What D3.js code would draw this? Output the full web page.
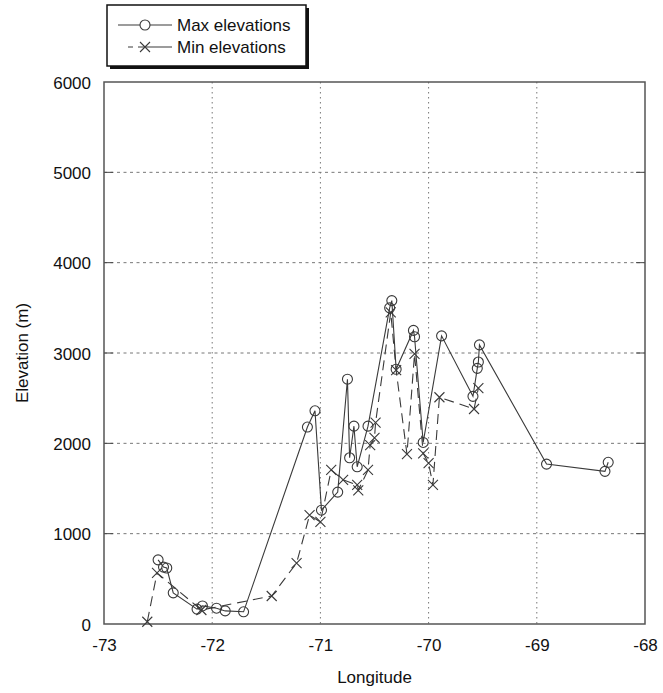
<!DOCTYPE html>
<html>
<head>
<meta charset="utf-8">
<script src="https://cdn.jsdelivr.net/npm/d3@7"></script>
<style>
  body { margin: 0; background: #fff; }
  text { font-family: "Liberation Sans", Arial, sans-serif; fill: #111; }
</style>
</head>
<body>
<svg id="chart" width="663" height="693"></svg>
<script>
// longitude / elevation
const maxLon = [-72.50, -72.45, -72.42, -72.36, -72.14, -72.09, -71.96, -71.88, -71.71,
  -71.12, -71.05, -70.99, -70.84, -70.75, -70.73, -70.69, -70.66, -70.56,
  -70.36, -70.34, -70.30, -70.14, -70.13, -70.05, -69.88, -69.59, -69.55,
  -69.54, -69.53, -68.91, -68.37, -68.34];
const maxElev = [710, 630, 620, 345, 165, 200, 175, 145, 135,
  2180, 2360, 1260, 1460, 2710, 1840, 2190, 1740, 2190,
  3500, 3580, 2820, 3250, 3180, 2010, 3190, 2520, 2830,
  2900, 3090, 1770, 1690, 1790];

const minLon = [-72.60, -72.51, -72.10, -71.45, -71.22, -71.10, -71.00, -70.90, -70.79,
  -70.66, -70.65, -70.56, -70.54, -70.50, -70.49, -70.35, -70.30, -70.20,
  -70.13, -70.05, -70.00, -69.96, -69.90, -69.58, -69.54];
const minElev = [25, 565, 155, 310, 675, 1205, 1130, 1705, 1595,
  1540, 1480, 1705, 1980, 2060, 2230, 3450, 2810, 1880,
  2990, 1890, 1780, 1540, 2510, 2380, 2610];

const xTicks = [-73, -72, -71, -70, -69, -68];
const yTicks = [0, 1000, 2000, 3000, 4000, 5000, 6000];
const legendLabels = ["Max elevations", "Min elevations"];

const svg = d3.select("#chart");
const pLeft = 104, pRight = 645, pTop = 82, pBottom = 624;
const fs = "17px";

const x = d3.scaleLinear().domain([-73, -68]).range([pLeft, pRight]);
const y = d3.scaleLinear().domain([0, 6000]).range([pBottom, pTop]);

const lineCol = "#3a3a3a";

// grid
svg.append("g").selectAll("line").data(xTicks.slice(1, -1)).enter().append("line")
  .attr("x1", d => x(d)).attr("x2", d => x(d)).attr("y1", pTop).attr("y2", pBottom)
  .attr("stroke", "#777").attr("stroke-dasharray", "1.5,3.5");
svg.append("g").selectAll("line").data(yTicks.slice(1, -1)).enter().append("line")
  .attr("y1", d => y(d)).attr("y2", d => y(d)).attr("x1", pLeft).attr("x2", pRight)
  .attr("stroke", "#777").attr("stroke-dasharray", "3,3.5");

// axes
const xAxis = svg.append("g")
  .attr("transform", "translate(0," + pBottom + ")")
  .call(d3.axisBottom(x).tickValues(xTicks).tickSize(0).tickPadding(15).tickFormat(d => String(d)));
const yAxis = svg.append("g")
  .attr("transform", "translate(" + pLeft + ",0)")
  .call(d3.axisLeft(y).tickValues(yTicks).tickSize(0).tickPadding(13).tickFormat(d => String(d)));
[xAxis, yAxis].forEach(g => {
  g.select(".domain").remove();
  g.selectAll("text").style("font-size", fs).style("font-family", "Liberation Sans, Arial, sans-serif").attr("fill", "#111");
});
yAxis.selectAll("text").attr("dy", "0.36em");

// inward ticks on the right and left
svg.append("g").selectAll("line").data(yTicks.slice(1, -1)).enter().append("line")
  .attr("x1", pRight - 9).attr("x2", pRight).attr("y1", d => y(d)).attr("y2", d => y(d))
  .attr("stroke", "#444");
svg.append("g").selectAll("line").data(yTicks.slice(1, -1)).enter().append("line")
  .attr("x1", pLeft).attr("x2", pLeft + 9).attr("y1", d => y(d)).attr("y2", d => y(d))
  .attr("stroke", "#444");

// frame
svg.append("rect").attr("x", pLeft).attr("y", pTop).attr("width", pRight - pLeft).attr("height", pBottom - pTop)
  .attr("fill", "none").attr("stroke", "#555").attr("stroke-width", 1.5);

const maxData = maxLon.map((d, i) => [d, maxElev[i]]);
const minData = minLon.map((d, i) => [d, minElev[i]]);
const line = d3.line().x(d => x(d[0])).y(d => y(d[1]));

svg.append("path").datum(minData).attr("d", line)
  .attr("fill", "none").attr("stroke", lineCol).attr("stroke-width", 1.1).attr("stroke-dasharray", "10,6");
svg.append("path").datum(maxData).attr("d", line)
  .attr("fill", "none").attr("stroke", lineCol).attr("stroke-width", 1.1);

function cross(g, cx, cy) {
  const s = 5;
  g.append("path").attr("d", `M${cx - s},${cy - s}L${cx + s},${cy + s}M${cx - s},${cy + s}L${cx + s},${cy - s}`)
    .attr("stroke", lineCol).attr("stroke-width", 1.1).attr("fill", "none");
}

svg.append("g").selectAll("circle").data(maxData).enter().append("circle")
  .attr("cx", d => x(d[0])).attr("cy", d => y(d[1])).attr("r", 5)
  .attr("fill", "none").attr("stroke", lineCol).attr("stroke-width", 1.1);
const cg = svg.append("g");
minData.forEach(d => cross(cg, x(d[0]), y(d[1])));

// axis titles
svg.append("text").attr("x", (pLeft + pRight) / 2).attr("y", 683).attr("text-anchor", "middle")
  .style("font-size", fs).text("Longitude");
svg.append("text").attr("transform", "translate(28," + ((pTop + pBottom) / 2) + ") rotate(-90)")
  .attr("text-anchor", "middle").style("font-size", fs).text("Elevation (m)");

// legend with drop shadow
const lg = svg.append("g");
lg.append("rect").attr("x", 110).attr("y", 8).attr("width", 199).attr("height", 61).attr("fill", "#111");
lg.append("rect").attr("x", 107).attr("y", 5).attr("width", 199).attr("height", 61)
  .attr("fill", "#fff").attr("stroke", "#111").attr("stroke-width", 1.5);
legendLabels.forEach((lab, i) => {
  const ly = 25 + i * 22;
  lg.append("line").attr("x1", i === 1 ? 128 : 118).attr("x2", 172).attr("y1", ly).attr("y2", ly)
    .attr("stroke", lineCol).attr("stroke-width", 1.1)
    .attr("stroke-dasharray", i === 1 ? "5,5,40" : null);
  if (i === 0) {
    lg.append("circle").attr("cx", 145).attr("cy", ly).attr("r", 5)
      .attr("fill", "#fff").attr("stroke", lineCol).attr("stroke-width", 1.1);
  } else {
    cross(lg, 145, ly);
  }
  lg.append("text").attr("x", 177).attr("y", ly).attr("dy", "0.35em")
    .style("font-size", fs).text(lab);
});
</script>
</body>
</html>
